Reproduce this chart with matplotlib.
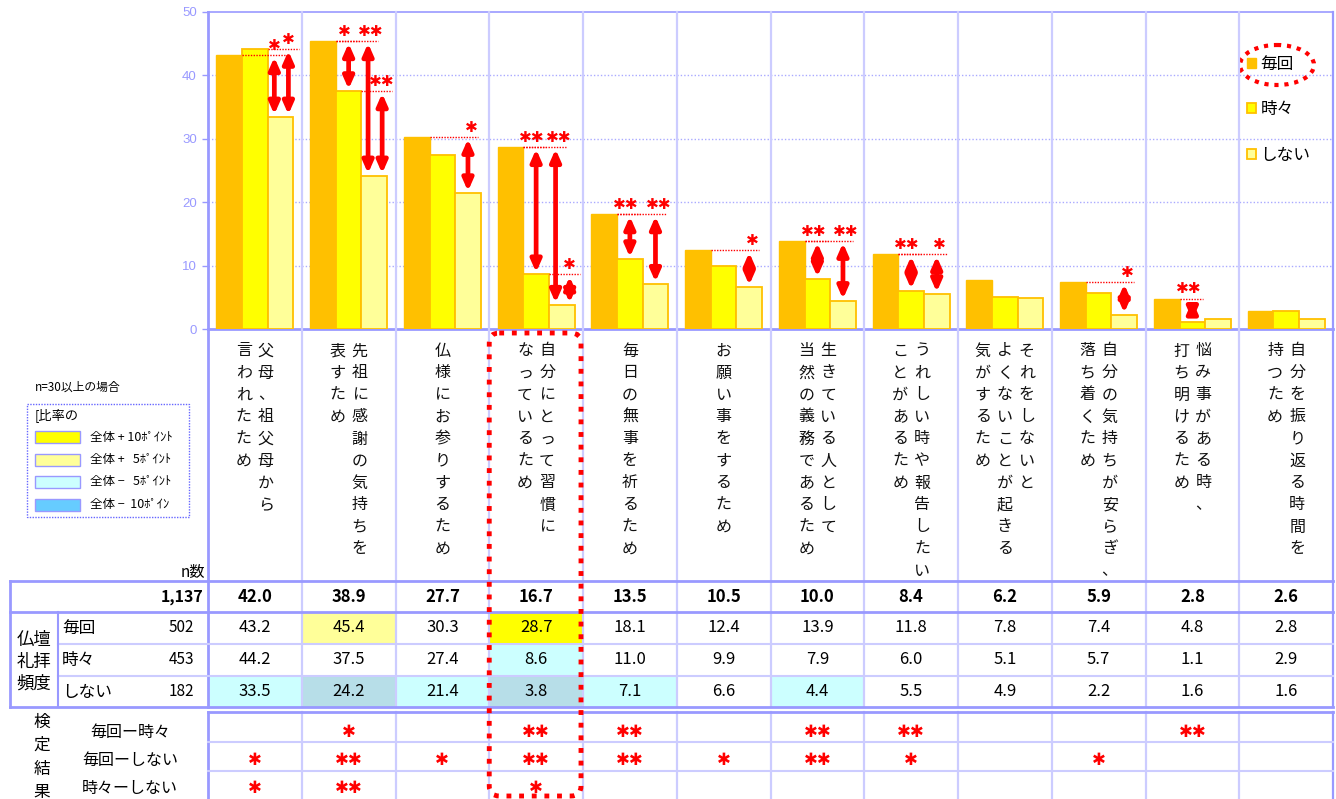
import matplotlib
matplotlib.use('Agg')
import matplotlib.pyplot as plt
from matplotlib import transforms
from matplotlib.patches import Rectangle, FancyBboxPatch, Ellipse
import numpy as np

plt.rcParams['font.family'] = ['Noto Sans CJK JP', 'DejaVu Sans']

# ---------------- data ----------------
label_lines = [
    ["父母、祖父母から", "言われたため"],
    ["先祖に感謝の気持ちを", "表すため"],
    ["仏様にお参りするため"],
    ["自分にとって習慣に", "なっているため"],
    ["毎日の無事を祈るため"],
    ["お願い事をするため"],
    ["生きている人として", "当然の義務であるため"],
    ["うれしい時や報告したい", "ことがあるため"],
    ["それをしないと", "よくないことが起きる", "気がするため"],
    ["自分の気持ちが安らぎ、", "落ち着くため"],
    ["悩み事がある時、", "打ち明けるため"],
    ["自分を振り返る時間を", "持つため"],
]
series_names = ["毎回", "時々", "しない"]
n_total = "1,137"
n_groups = ["502", "453", "182"]
total = [42.0, 38.9, 27.7, 16.7, 13.5, 10.5, 10.0, 8.4, 6.2, 5.9, 2.8, 2.6]
maikai = [43.2, 45.4, 30.3, 28.7, 18.1, 12.4, 13.9, 11.8, 7.8, 7.4, 4.8, 2.8]
tokidoki = [44.2, 37.5, 27.4, 8.6, 11.0, 9.9, 7.9, 6.0, 5.1, 5.7, 1.1, 2.9]
shinai = [33.5, 24.2, 21.4, 3.8, 7.1, 6.6, 4.4, 5.5, 4.9, 2.2, 1.6, 1.6]
# highlight: 2 = +10pt, 1 = +5pt, -1 = -5pt, -2 = -10pt
hl_maikai = [0, 1, 0, 2, 0, 0, 0, 0, 0, 0, 0, 0]
hl_tokidoki = [0, 0, 0, -1, 0, 0, 0, 0, 0, 0, 0, 0]
hl_shinai = [-1, -2, -1, -2, -1, 0, -1, 0, 0, 0, 0, 0]
test_names = ["毎回ー時々", "毎回ーしない", "時々ーしない"]
test_mt = ["", "*", "", "**", "**", "", "**", "**", "", "", "**", ""]
test_ms = ["*", "**", "*", "**", "**", "*", "**", "*", "", "*", "", ""]
test_ts = ["*", "**", "", "*", "", "", "", "", "", "", "", ""]
yticks = [0, 10, 20, 30, 40, 50]
legend_texts = ["全体 + 10ﾎﾟｲﾝﾄ", "全体 +   5ﾎﾟｲﾝﾄ", "全体 −   5ﾎﾟｲﾝﾄ", "全体 −  10ﾎﾟｲﾝ"]

# ---------------- style ----------------
C_M, C_T, C_S = "#FFC000", "#FFFF00", "#FFFF99"
C_EDGE = "#FFC000"
LAV = "#9999FF"
LAV_L = "#CCCCFF"
HL = {2: "#FFFF00", 1: "#FFFF99", -1: "#CCFFFF", -2: "#B7DEE8"}
STAR = "\u2731"

W, H = 1336, 799
fig = plt.figure(figsize=(W / 100, H / 100), dpi=100)
ax = fig.add_axes([208 / W, 1 - 329 / H, (1333 - 208) / W, (329 - 12) / H])
ov = fig.add_axes([0, 0, 1, 1])
ov.set_xlim(0, W)
ov.set_ylim(H, 0)
ov.axis('off')
ov.patch.set_alpha(0)

n = len(total)
x = np.arange(n)
w = 0.273
b1 = ax.bar(x - w, maikai, w, color=C_M, edgecolor=C_M, lw=1.0, label=series_names[0], zorder=3)
b2 = ax.bar(x, tokidoki, w, color=C_T, edgecolor=C_EDGE, lw=1.3, label=series_names[1], zorder=3)
b3 = ax.bar(x + w, shinai, w, color=C_S, edgecolor=C_EDGE, lw=1.3, label=series_names[2], zorder=3)
ax.set_xlim(-0.5, n - 0.5)
ax.set_ylim(0, 50)
ax.set_yticks(yticks)
ax.set_xticks([])
for yv in yticks[1:-1]:
    ax.axhline(yv, color="#AAAAFF", ls=(0, (1, 1.5)), lw=1, zorder=1)
ax.tick_params(axis='y', colors=LAV, labelcolor=LAV, labelsize=9.5, length=4, width=1,
               pad=4, labelfontfamily='Liberation Sans')
for s in ['left', 'bottom']:
    ax.spines[s].set_color(LAV)
    ax.spines[s].set_linewidth(2)
for s in ['top', 'right']:
    ax.spines[s].set_color(LAV)
    ax.spines[s].set_linewidth(1.2)

# legend (top right)
leg = ax.legend(handles=[b1, b2, b3], loc='upper left', bbox_to_anchor=(1247 / W, 1 - 56 / H),
                bbox_transform=fig.transFigure, frameon=False, fontsize=12,
                handlelength=0.55, handleheight=0.55, handletextpad=0.25,
                labelspacing=1.7, borderpad=0, borderaxespad=0)
ov.add_patch(Ellipse((1277, 65), 74, 40, fill=False, edgecolor='red', lw=3,
                     ls=(0, (1, 1.4))))

# significance arrows
def add_arrow(xa, top, bot, src_right, star, star_dx):
    ax.plot([src_right, xa + 0.4 * w], [top, top], color='red', lw=1, ls=(0, (1, 1)), zorder=5)
    ax.annotate('', xy=(xa, bot), xytext=(xa, top),
                arrowprops=dict(arrowstyle='<|-|>,head_length=0.5,head_width=0.22',
                                color='red', lw=3.4, mutation_scale=14,
                                shrinkA=1.5, shrinkB=1.5), zorder=6)
    ax.annotate(STAR * len(star), xy=(xa, top), xytext=(star_dx * 0.72, 1.5),
                textcoords='offset points', ha='center', va='bottom', color='red',
                fontsize=11, fontweight='bold', family='DejaVu Sans', zorder=7)

for i in range(n):
    if test_mt[i]:
        add_arrow(i, maikai[i], tokidoki[i], i - w / 2, test_mt[i], -4)
    both = bool(test_ms[i]) and bool(test_ts[i])
    if test_ms[i]:
        add_arrow(i + w - (0.24 * w if both else 0), maikai[i], shinai[i], i - w / 2,
                  test_ms[i], 3 if not both or len(test_ms[i]) > 1 else 0)
    if test_ts[i]:
        add_arrow(i + w + (0.31 * w if both else 0), tokidoki[i], shinai[i], i + w / 2,
                  test_ts[i], 0)

# ---------------- overlay: labels & table ----------------
bt = transforms.blended_transform_factory(ax.transData, ov.transData)

# vertical separators
for i in range(n - 1):
    ov.plot([i + 0.5, i + 0.5], [12, 707], color=LAV_L, lw=1.6, transform=bt, zorder=1)
    ov.plot([i + 0.5, i + 0.5], [712, 799], color=LAV_L, lw=1.6, transform=bt, zorder=1)
ov.plot([n - 0.5, n - 0.5], [12, 707], color=LAV, lw=1.6, transform=bt)
ov.plot([n - 0.5, n - 0.5], [712, 799], color=LAV, lw=1.6, transform=bt)
ov.plot([-0.5, -0.5], [329, 707], color=LAV, lw=2, transform=bt)
ov.plot([-0.5, -0.5], [712, 799], color=LAV, lw=2, transform=bt)

# category labels (vertical text)
for i, lines in enumerate(label_lines):
    m = len(lines)
    for k, line in enumerate(lines):
        dx = ((m - 1) / 2 - k) * 22
        tr = transforms.offset_copy(bt, x=dx, y=0, units='dots')
        for j, ch in enumerate(line):
            ov.text(i, 351 + j * 22, ch, transform=tr, ha='center', va='center',
                    fontsize=11.5, color='#111111')

# table cell highlights
row_y = [612, 644, 676, 707]
for r, hl in enumerate([hl_maikai, hl_tokidoki, hl_shinai]):
    for i, h in enumerate(hl):
        if h:
            ov.add_patch(Rectangle((i - 0.5, row_y[r]), 1, row_y[r + 1] - row_y[r],
                                   facecolor=HL[h], edgecolor='none', transform=bt, zorder=0))

# table lines
ov.plot([10, 1333], [581, 581], color=LAV, lw=2)
ov.plot([10, 1333], [612, 612], color=LAV, lw=2)
ov.plot([58, 1333], [644, 644], color=LAV_L, lw=1.5)
ov.plot([58, 1333], [676, 676], color=LAV_L, lw=1.5)
ov.plot([10, 1333], [707, 707], color=LAV, lw=2)
ov.plot([10, 10], [581, 707], color=LAV, lw=2)
ov.plot([58, 58], [612, 707], color=LAV, lw=1.5)
ov.plot([208, 1333], [712, 712], color=LAV, lw=2)
ov.plot([208, 1333], [742, 742], color=LAV_L, lw=1.5)
ov.plot([208, 1333], [771, 771], color=LAV_L, lw=1.5)

# table text
ov.text(203, 597, n_total, ha='right', va='center', fontsize=11.5, fontweight='bold')
for i, v in enumerate(total):
    ov.text(i, 597, f"{v:.1f}", transform=bt, ha='center', va='center', fontsize=12,
            fontweight='bold')
row_c = [628, 660, 692]
for r, (name, nv, vals) in enumerate(zip(series_names, n_groups, [maikai, tokidoki, shinai])):
    ov.text(62, row_c[r], name, ha='left', va='center', fontsize=12)
    ov.text(194, row_c[r], nv, ha='right', va='center', fontsize=11)
    for i, v in enumerate(vals):
        ov.text(i, row_c[r], f"{v:.1f}", transform=bt, ha='center', va='center', fontsize=12)
for k, t in enumerate(["仏壇", "礼拝", "頻度"]):
    ov.text(34, 640 + k * 22, t, ha='center', va='center', fontsize=12.5)
ov.text(205, 572, "n数", ha='right', va='center', fontsize=11)

# test results
for k, t in enumerate("検定結果"):
    ov.text(42, 722 + k * 23.5, t, ha='center', va='center', fontsize=12)
test_c = [732, 760, 788]
for r, (name, res) in enumerate(zip(test_names, [test_mt, test_ms, test_ts])):
    ov.text(130, test_c[r], name, ha='center', va='center', fontsize=11.5)
    for i, s in enumerate(res):
        if s:
            ov.text(i, test_c[r], STAR * len(s), transform=bt, ha='center', va='center',
                    color='red', fontsize=12, fontweight='bold', family='DejaVu Sans')

# left legend box
ov.text(35, 387, "n=30以上の場合", ha='left', va='center', fontsize=8.5)
ov.add_patch(Rectangle((27, 404), 162, 113, fill=False, edgecolor='#6666FF', lw=1,
                       ls=(0, (1, 1))))
ov.text(35, 415, "[比率の", ha='left', va='center', fontsize=9.5)
sw_cols = [HL[2], HL[1], HL[-1], "#66CCFF"]
for k, (c, t) in enumerate(zip(sw_cols, legend_texts)):
    yc = 437 + k * 22.5
    ov.add_patch(Rectangle((35, yc - 6), 45, 12, facecolor=c, edgecolor=LAV, lw=1))
    ov.text(90, yc, t, ha='left', va='center', fontsize=9)

# red dotted frame around one category column
disp = ax.transData.transform([(2.5, 0), (3.5, 0)])
xl, xr = ov.transData.inverted().transform(disp)[:, 0]
frame = FancyBboxPatch((xl, 333), xr - xl - 2, 796 - 333,
                       boxstyle='round,pad=0,rounding_size=10', fill=False,
                       edgecolor='red', lw=3.5, ls=(0, (1, 1.6)), zorder=8)
frame.set_capstyle('butt')
ov.add_patch(frame)

fig.savefig('out.png', dpi=100)
